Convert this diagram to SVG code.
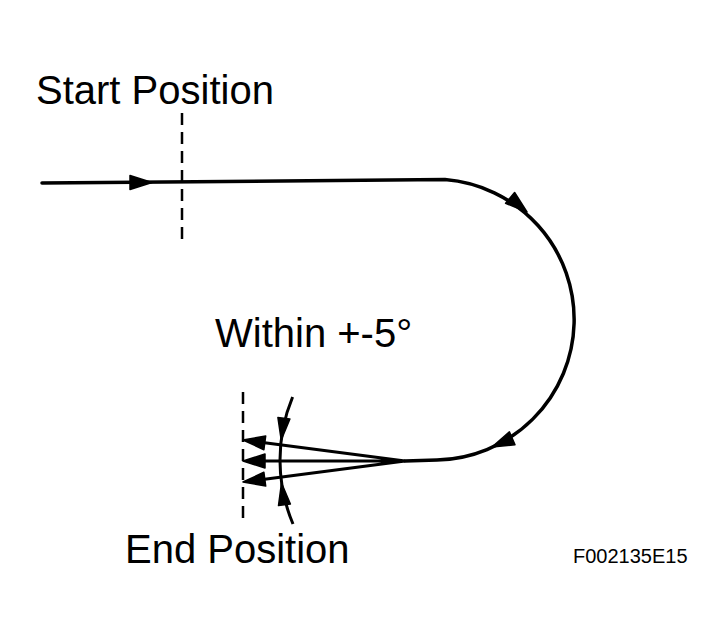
<svg xmlns="http://www.w3.org/2000/svg" width="724" height="639" viewBox="0 0 724 639">
<style>
.t{font-family:"Liberation Sans",Arial,sans-serif;fill:#000}
.ln{fill:none;stroke:#000;stroke-width:3.5;stroke-linecap:round}
.fan{fill:none;stroke:#000;stroke-width:3}
.dash{fill:none;stroke:#000;stroke-width:2.5;stroke-dasharray:12 7}
.ah{fill:#000;stroke:#000;stroke-width:1.5;stroke-linejoin:round}
</style>
<rect width="724" height="639" fill="#fff"/>
<g id="start-position">
<line class="dash" x1="182" y1="113" x2="182" y2="243"/>
<text class="t" x="36" y="104" font-size="40">Start Position</text>
</g>
<g id="end-position">
<line class="dash" x1="243" y1="392" x2="243" y2="524"/>
<text class="t" x="125" y="563" font-size="40">End Position</text>
</g>
<g id="tolerance">
<path class="fan" d="M292.6 397 A164 164 0 0 0 293 524"/>
<polygon class="ah" points="281.2,440 289.9,418.9 277.9,417.5"/>
<polygon class="ah" points="281.5,483 290.4,504 278.5,505.6"/>
<text class="t" x="215" y="347" font-size="40">Within +-5°</text>
</g>
<g id="connectors">
<path class="ln" d="M42 183 L445 179.5 A140.5 140.5 0 0 1 437 460 L405 461"/>
<polygon class="ah" points="152,182.5 130,175.5 130,189.5"/>
<polygon class="ah" points="527,212 505.6,203.3 514.6,192.5"/>
<polygon class="ah" points="492,447 515,444.7 509.4,431.9"/>
<path class="fan" d="M405 461 L255 441.5 M405 461 L255 461 M405 461 L255 480.5"/>
<polygon class="ah" points="243,440 265.7,435.9 263.9,449.7"/>
<polygon class="ah" points="243,461 265,454 265,468"/>
<polygon class="ah" points="243,482 265.7,486.1 263.9,472.3"/>
</g>
<text id="figure-code" class="t" x="573" y="563" font-size="20">F002135E15</text>
</svg>
